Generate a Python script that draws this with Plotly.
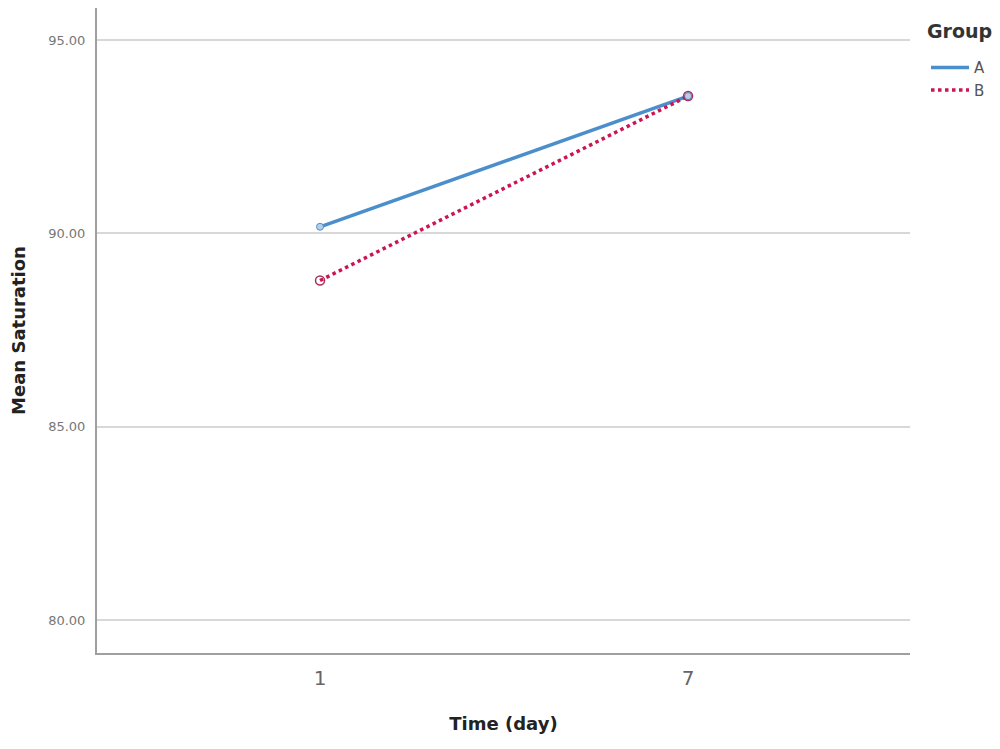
import plotly.graph_objects as go

days = ["1", "7"]
group_a = [90.17, 93.55]
group_b = [88.78, 93.55]
y_ticks = [80, 85, 90, 95]

col_a = "#4a8fcb"
col_b = "#cc1452"

fig = go.Figure()
fig.add_trace(go.Scatter(
    x=days, y=group_a, name="A", mode="lines",
    line=dict(color=col_a, width=3.5),
))
fig.add_trace(go.Scatter(
    x=days, y=group_b, name="B", mode="lines",
    line=dict(color=col_b, width=3.5, dash="dot"),
))
fig.add_trace(go.Scatter(
    x=days, y=group_a, mode="markers", showlegend=False, hoverinfo="skip",
    marker=dict(symbol="circle", size=7, color="#b5cfea", line=dict(color=col_a, width=1)),
))
fig.add_trace(go.Scatter(
    x=days, y=group_b, mode="markers", showlegend=False, hoverinfo="skip",
    marker=dict(symbol="circle-open", size=9, color="#a8305a", line=dict(width=1.5)),
))

fig.add_annotation(
    text="Group", xref="paper", yref="paper", x=1.0185, y=0.964,
    xanchor="left", yanchor="middle", showarrow=False,
    font=dict(family="DejaVu Sans", size=19, color="#333", weight="bold"),
)

fig.update_layout(
    width=1000, height=749,
    margin=dict(l=89, r=98, t=0, b=104),
    plot_bgcolor="white", paper_bgcolor="white",
    font=dict(family="DejaVu Sans, Liberation Sans, sans-serif", color="#333"),
    legend=dict(
        x=1.0197, xanchor="left", y=0.933, yanchor="top",
        font=dict(size=15, color="#555"),
        bgcolor="rgba(0,0,0,0)", tracegroupgap=0, itemwidth=38,
    ),
    xaxis=dict(
        type="category", range=[-0.606, 1.603],
        showgrid=False, showline=True, linecolor="#9f9f9f", linewidth=2,
        ticks="", ticklabelstandoff=6, tickfont=dict(size=20, color="#666"),
        title=dict(text="Time (day)", font=dict(size=18, color="#222", weight="bold"), standoff=28),
        zeroline=False, automargin=False,
    ),
    yaxis=dict(
        range=[79.147, 95.828], tickvals=y_ticks, tickformat=".2f",
        showgrid=True, gridcolor="#d8d8d8", gridwidth=2,
        showline=True, linecolor="#9f9f9f", linewidth=2,
        ticks="", ticklabelstandoff=7, tickfont=dict(size=13, color="#777"),
        title=dict(text="Mean Saturation", font=dict(size=18, color="#222", weight="bold"), standoff=25),
        zeroline=False, automargin=False,
    ),
    showlegend=True,
)

fig.write_html("out.html")
